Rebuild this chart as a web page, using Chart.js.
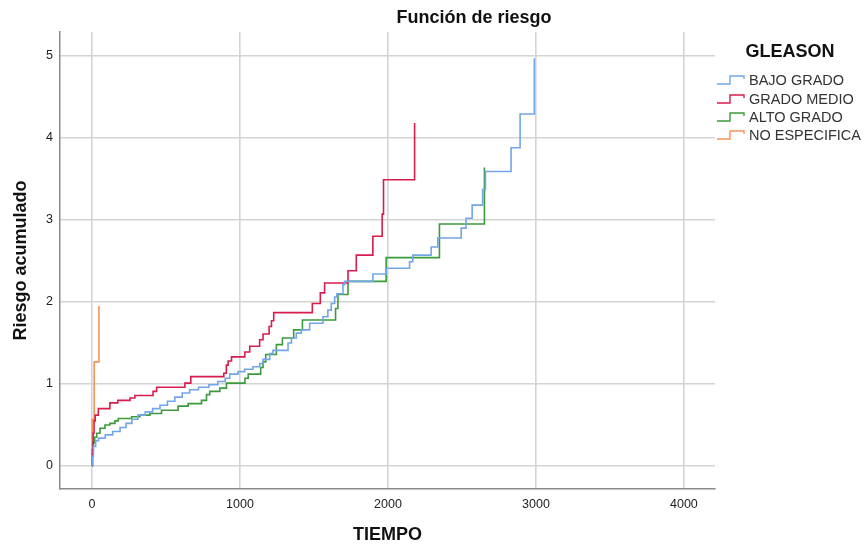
<!DOCTYPE html>
<html>
<head>
<meta charset="utf-8">
<script src="https://cdn.jsdelivr.net/npm/chart.js@4"></script>
<style>
html,body{margin:0;padding:0;background:#fff;}
#wrap{position:relative;width:865px;height:544px;font-family:"Liberation Sans",Arial,sans-serif;overflow:hidden;}
#c{position:absolute;left:0;top:0;}
#title{position:absolute;left:324px;width:300px;top:7px;text-align:center;font-weight:bold;font-size:18px;line-height:20px;color:#111;}
#legend{position:absolute;left:716px;top:40px;width:149px;}
#legend .lt{text-align:center;font-weight:bold;font-size:18px;line-height:22px;color:#111;width:148px;margin-bottom:9px;}
#legend .it{height:18.4px;display:flex;align-items:center;font-size:14.5px;color:#333;white-space:nowrap;}
#legend svg{width:31px;height:14px;flex:none;margin-right:2px;}
</style>
</head>
<body>
<div id="wrap">
<canvas id="c" width="865" height="544"></canvas>
<div id="title">Función de riesgo</div>
<div id="legend"></div>
</div>
<script>
// ---- data ----
const categories = ['BAJO GRADO', 'GRADO MEDIO', 'ALTO GRADO', 'NO ESPECIFICA'];
const colors = ['#72a6e8', '#d81c4c', '#3b9a3b', '#f7925c'];

const bajoT = [0,3,10,25,45,90,140,190,230,270,310,360,410,460,510,560,610,660,720,790,850,900,931,987,1032,1088,1134,1156,1201,1223,1325,1348,1381,1415,1471,1561,1594,1617,1640,1655,1696,1707,1898,1988,2146,2168,2292,2337,2495,2528,2569,2640,2659,2832,2893,2989];
const bajoH = [0,0.12,0.24,0.31,0.34,0.38,0.42,0.47,0.52,0.57,0.62,0.66,0.70,0.74,0.79,0.84,0.89,0.93,0.96,0.99,1.03,1.07,1.12,1.15,1.18,1.21,1.25,1.30,1.37,1.41,1.50,1.56,1.62,1.66,1.74,1.82,1.90,1.98,2.06,2.10,2.21,2.25,2.34,2.41,2.49,2.57,2.67,2.78,2.90,3.02,3.18,3.37,3.59,3.88,4.29,4.97];

const medioT = [0,3,8,14,22,43,121,175,257,290,413,437,628,668,891,908,920,943,1033,1066,1133,1156,1197,1213,1228,1489,1543,1572,1730,1786,1898,1961,1970,2180];
const medioH = [0,0.20,0.40,0.55,0.62,0.70,0.77,0.80,0.83,0.86,0.91,0.96,1.01,1.09,1.13,1.23,1.28,1.33,1.39,1.46,1.54,1.61,1.70,1.77,1.87,1.98,2.11,2.23,2.38,2.57,2.80,3.07,3.49,4.18];

const altoT = [0,3,8,18,32,54,88,121,155,178,268,324,391,470,582,650,740,774,796,864,909,1034,1056,1140,1156,1174,1246,1287,1363,1422,1646,1662,1730,1988,2348,2652];
const altoH = [0,0.15,0.28,0.35,0.40,0.46,0.50,0.52,0.55,0.58,0.60,0.62,0.64,0.68,0.73,0.76,0.80,0.87,0.91,0.95,1.01,1.07,1.12,1.20,1.27,1.36,1.48,1.56,1.66,1.78,1.92,2.09,2.25,2.54,2.95,3.64];

const noEspT = [0,2,15,47];
const noEspH = [0,0.57,1.27,1.95];

const xTicks = [0,1000,2000,3000,4000];
const xTickLabels = ['0','1000','2000','3000','4000'];
const yTicks = [0,1,2,3,4,5];
const yTickLabels = ['0','1','2','3','4','5'];

// ---- build ----
const seriesT = [bajoT, medioT, altoT, noEspT];
const seriesH = [bajoH, medioH, altoH, noEspH];
const FONT = '"Liberation Sans", Arial, sans-serif';

const datasets = categories.map((name, i) => ({
  label: name,
  data: seriesT[i].map((t, k) => ({x: t, y: seriesH[i][k]})),
  borderColor: colors[i],
  backgroundColor: colors[i],
  borderWidth: 1.6,
  pointRadius: 0,
  stepped: true,
  fill: false,
  tension: 0
}));

new Chart(document.getElementById('c'), {
  type: 'line',
  data: {datasets},
  options: {
    responsive: false,
    animation: false,
    devicePixelRatio: 1,
    layout: {padding: {top: 32, right: 150, left: 0, bottom: 0}},
    plugins: {legend: {display: false}, title: {display: false}, tooltip: {enabled: false}},
    scales: {
      x: {
        type: 'linear', min: -216, max: 4210,
        afterBuildTicks: s => { s.ticks = xTicks.map(v => ({value: v})); },
        afterFit: s => { s.height = 55; },
        grid: {color: '#d4d4d4', lineWidth: 1.6, drawTicks: false},
        border: {display: true, color: '#8a8a8a', width: 1.5},
        ticks: {padding: 8, color: '#222', font: {family: FONT, size: 12.5}, maxRotation: 0, autoSkip: false,
          callback: (v) => xTickLabels[xTicks.indexOf(v)]},
        title: {display: true, text: 'TIEMPO', color: '#111', font: {family: FONT, size: 18, weight: 'bold', lineHeight: 1}, padding: {top: 0, bottom: 0}}
      },
      y: {
        type: 'linear', min: -0.28, max: 5.29,
        afterBuildTicks: s => { s.ticks = yTicks.map(v => ({value: v})); },
        afterFit: s => { s.width = 60; },
        grid: {color: '#d4d4d4', lineWidth: 1.6, drawTicks: false},
        border: {display: true, color: '#8a8a8a', width: 1.5},
        ticks: {padding: 7, color: '#222', font: {family: FONT, size: 12.5},
          callback: (v) => yTickLabels[yTicks.indexOf(v)]},
        title: {display: true, text: 'Riesgo acumulado', color: '#111', font: {family: FONT, size: 18, weight: 'bold', lineHeight: 1}, padding: {top: 12, bottom: 0}}
      }
    }
  }
});

// ---- legend ----
const lg = document.getElementById('legend');
const lt = document.createElement('div');
lt.className = 'lt';
lt.textContent = 'GLEASON';
lg.appendChild(lt);
categories.forEach((name, i) => {
  const it = document.createElement('div');
  it.className = 'it';
  it.innerHTML = '<svg viewBox="0 0 31 14"><polyline points="1,11 14,11 14,3 28,3 28,6" fill="none" stroke="' + colors[i] + '" stroke-width="1.4"/></svg><span>' + name + '</span>';
  lg.appendChild(it);
});
</script>
</body>
</html>
